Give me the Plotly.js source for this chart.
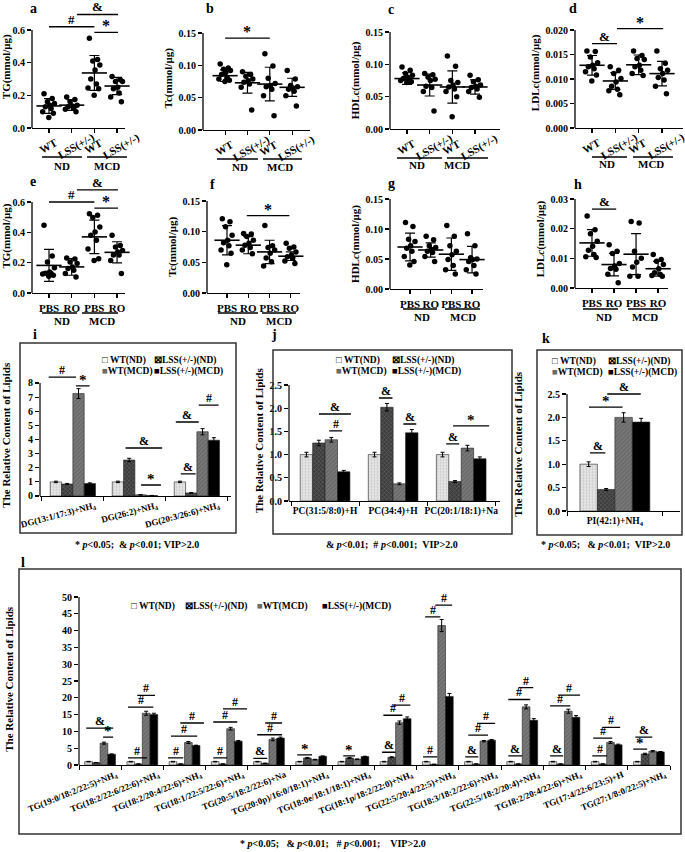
<!DOCTYPE html>
<html><head><meta charset="utf-8">
<script src="https://cdn.plot.ly/plotly-3.0.1.min.js"></script>
<style>html,body{margin:0;padding:0;background:#fff}#chart{width:685px;height:852px}</style>
</head><body><div id="chart"></div>
<script>
// ================= DATA =================
const genotypeTicks = ['WT', 'LSS(+/-)', 'WT', 'LSS(+/-)'];
const treatmentTicks = ['PBS', 'RO', 'PBS', 'RO'];
const dietGroups = ['ND', 'MCD'];

// a: TG, genotype
const tgGeno = [[0.21,0.18,0.16,0.15,0.14,0.13,0.12,0.10,0.09,0.065],[0.19,0.175,0.16,0.14,0.135,0.13,0.12,0.115,0.10],[0.55,0.42,0.41,0.385,0.355,0.30,0.27,0.245,0.24,0.20],[0.315,0.295,0.285,0.285,0.25,0.24,0.215,0.19,0.16]];
const tgGenoMean = [0.135,0.14,0.337,0.257];
const tgGenoSd = [0.045,0.032,0.107,0.053];
// b: Tc, genotype
const tcGeno = [[0.102,0.096,0.094,0.092,0.089,0.086,0.081,0.079,0.077,0.075],[0.090,0.086,0.083,0.079,0.076,0.074,0.071,0.066,0.031],[0.118,0.099,0.080,0.072,0.069,0.067,0.063,0.053,0.022],[0.092,0.079,0.069,0.067,0.065,0.063,0.060,0.053,0.037]];
const tcGenoMean = [0.084,0.073,0.071,0.066];
const tcGenoSd = [0.009,0.016,0.026,0.014];
// c: HDLc, genotype
const hdlGeno = [[0.096,0.091,0.086,0.083,0.080,0.078,0.076,0.075,0.073,0.072],[0.086,0.084,0.080,0.077,0.075,0.066,0.064,0.058,0.028],[0.113,0.097,0.075,0.072,0.068,0.065,0.062,0.058,0.050,0.019],[0.083,0.076,0.073,0.068,0.066,0.064,0.062,0.058,0.049]];
const hdlGenoMean = [0.078,0.068,0.065,0.065];
const hdlGenoSd = [0.009,0.017,0.025,0.011];
// d: LDLc, genotype
const ldlGeno = [[0.0157,0.0156,0.0145,0.0133,0.0128,0.0125,0.0121,0.0115,0.0108,0.0096],[0.0125,0.0118,0.0111,0.0101,0.0094,0.0085,0.0079,0.0076,0.0068],[0.0157,0.0148,0.0142,0.0140,0.0128,0.0125,0.0118,0.0111,0.0107],[0.0157,0.0132,0.0121,0.0118,0.0111,0.0103,0.0098,0.0085,0.0070]];
const ldlGenoMean = [0.0128,0.0096,0.0129,0.0111];
const ldlGenoSd = [0.0020,0.0017,0.0020,0.0025];
// e: TG, treatment
const tgTreat = [[0.446,0.244,0.204,0.167,0.139,0.130,0.128,0.125,0.117,0.110],[0.230,0.225,0.204,0.194,0.172,0.161,0.150,0.128,0.106],[0.523,0.512,0.497,0.435,0.402,0.380,0.347,0.290,0.226,0.215],[0.380,0.314,0.303,0.280,0.270,0.250,0.250,0.215,0.128]];
const tgTreatMean = [0.182,0.172,0.370,0.268];
const tgTreatSd = [0.105,0.055,0.110,0.070];
// f: Tc, treatment
const tcTreat = [[0.121,0.116,0.108,0.094,0.086,0.082,0.077,0.070,0.065,0.046],[0.097,0.096,0.092,0.086,0.081,0.078,0.074,0.070,0.064],[0.110,0.077,0.074,0.070,0.065,0.057,0.051,0.044],[0.081,0.075,0.073,0.067,0.062,0.059,0.057,0.052,0.048]];
const tcTreatMean = [0.086,0.078,0.067,0.060];
const tcTreatSd = [0.024,0.014,0.019,0.007];
// g: HDLc, treatment
const hdlTreat = [[0.111,0.104,0.083,0.079,0.072,0.068,0.063,0.054,0.046,0.040],[0.088,0.082,0.072,0.069,0.066,0.063,0.061,0.054,0.046],[0.106,0.088,0.072,0.063,0.057,0.049,0.039,0.032,0.025],[0.092,0.072,0.052,0.050,0.049,0.046,0.039,0.032,0.025]];
const hdlTreatMean = [0.070,0.065,0.058,0.049];
const hdlTreatSd = [0.023,0.012,0.027,0.022];
// h: LDLc, treatment
const ldlTreat = [[0.0243,0.0196,0.0183,0.0158,0.0141,0.0127,0.0113,0.0105,0.0103],[0.0146,0.0124,0.0116,0.0083,0.0074,0.0066,0.0063,0.0046,0.0018],[0.0224,0.0219,0.0124,0.0100,0.0087,0.0071,0.0040,0.0040],[0.0113,0.0096,0.0090,0.0079,0.0065,0.0051,0.0046,0.0042,0.0040]];
const ldlTreatMean = [0.0152,0.0079,0.0114,0.0065];
const ldlTreatSd = [0.0045,0.0038,0.0069,0.0025];

// significance marks: [x from, x to, level, symbol]
const sigA = [[0,2,0.62,'#'],[1.23,3.04,0.695,'&'],[2,3.04,0.585,'*']];
const sigB = [[0,2,0.142,'*']];
const sigD = [[0,1.07,0.0172,'&'],[1.07,3.05,0.0203,'*']];
const sigE = [[0,2,0.60,'#'],[1.23,3.04,0.68,'&'],[2,3.04,0.56,'*']];
const sigF = [[0.93,2.93,0.126,'*']];
const sigH = [[0,1.1,0.0266,'&']];

// bar series names
const seriesNames = ['WT(ND)', 'LSS(+/-)(ND)', 'WT(MCD)', 'LSS(+/-)(MCD)'];

// i: DG
const dgLipids = ['DG(13:1/17:3)+NH<sub>4</sub>', 'DG(26:2)+NH<sub>4</sub>', 'DG(20:3/26:6)+NH<sub>4</sub>'];
const dgWtNd = [1.0,1.0,1.0];      const dgWtNdErr = [0.05,0.05,0.05];
const dgLssNd = [0.85,2.55,0.22];  const dgLssNdErr = [0.04,0.12,0.02];
const dgWtMcd = [7.25,0.08,4.55];  const dgWtMcdErr = [0.35,0.01,0.22];
const dgLssMcd = [0.88,0.03,3.95]; const dgLssMcdErr = [0.05,0.01,0.18];
const sigI = [[-0.39,0.05,8.42,'#'],[0.05,0.27,7.79,'*'],[0.85,1.44,3.40,'&'],[1.10,1.42,0.78,'*'],[1.66,2.03,5.24,'&'],[2.03,2.35,6.44,'#'],[1.74,1.98,1.56,'&']];

// j: PC
const pcLipids = ['PC(31:5/8:0)+H', 'PC(34:4)+H', 'PC(20:1/18:1)+Na'];
const pcWtNd = [1.0,1.0,1.0];      const pcWtNdErr = [0.05,0.05,0.05];
const pcLssNd = [1.25,2.02,0.42];  const pcLssNdErr = [0.06,0.08,0.02];
const pcWtMcd = [1.32,0.37,1.14];  const pcWtMcdErr = [0.05,0.02,0.06];
const pcLssMcd = [0.63,1.47,0.91]; const pcLssMcdErr = [0.03,0.07,0.04];
const sigJ = [[-0.09,0.38,1.875,'&'],[0.06,0.25,1.51,'#'],[0.79,0.99,2.22,'&'],[1.15,1.34,1.66,'&'],[1.78,1.97,1.23,'&'],[1.88,2.41,1.62,'*']];

// k: PI
const piLipids = ['PI(42:1)+NH<sub>4</sub>'];
const piWtNd = [1.0];   const piWtNdErr = [0.05];
const piLssNd = [0.46]; const piLssNdErr = [0.02];
const piWtMcd = [2.0];  const piWtMcdErr = [0.10];
const piLssMcd = [1.9]; const piLssMcdErr = [0.08];
const sigK = [[-0.26,-0.10,1.24,'&'],[-0.27,0.08,2.22,'*'],[-0.08,0.27,2.5,'&']];

// l: TG species
const tgLipids = ['TG(19:0/18:2/22:5)+NH<sub>4</sub>','TG(18:2/22:6/22:6)+NH<sub>4</sub>','TG(18:2/20:4/22:6)+NH<sub>4</sub>','TG(18:1/22:5/22:6)+NH<sub>4</sub>','TG(20:5/18:2/22:6)+Na','TG(20:0p)/16:0/18:1)+NH<sub>4</sub>','TG(18:0e/18:1/18:1)+NH<sub>4</sub>','TG(18:1p/18:2/22:0)+NH<sub>4</sub>','TG(22:5/20:4/22:5)+NH<sub>4</sub>','TG(18:3/18:2/22:6)+NH<sub>4</sub>','TG(22:5/18:2/20:4)+NH<sub>4</sub>','TG18:2/20:4/22:6)+NH<sub>4</sub>','TG(17:4/22:6/23:5)+H','TG(27:1/8:0/22:5)+NH<sub>4</sub>'];
const tgWtNd = [1,1,1,1,1,1,1,1,1,1,1,1,1,1];
const tgWtNdErr = [0.08,0.08,0.08,0.08,0.08,0.08,0.08,0.08,0.08,0.08,0.08,0.08,0.08,0.08];
const tgLssNd = [0.7,0.3,0.3,0.3,0.5,2.1,2.1,2.3,0.2,0.3,0.3,0.3,0.3,3.3];
const tgLssNdErr = [0.05,0.03,0.03,0.03,0.05,0.15,0.15,0.15,0.02,0.03,0.03,0.03,0.03,0.2];
const tgWtMcd = [6.5,15.4,6.7,10.8,7.6,1.6,1.7,12.6,41.5,7.1,17.3,16.0,6.7,4.1];
const tgWtMcdErr = [0.3,0.6,0.3,0.4,0.4,0.1,0.1,0.5,1.8,0.2,0.6,0.6,0.3,0.2];
const tgLssMcd = [3.2,15.0,5.8,7.1,8.0,2.6,2.5,13.8,20.4,7.4,13.3,14.2,6.0,3.9];
const tgLssMcdErr = [0.1,0.4,0.1,0.2,0.3,0.1,0.1,0.5,0.9,0.2,0.5,0.5,0.2,0.1];
const sigL = [
 [-0.33,0.31,11,'&'],[0.07,0.31,8.3,'*'],
 [0.66,1.11,2.1,'#'],[0.66,1.26,17.2,'#'],[0.88,1.30,20.7,'#'],
 [1.61,1.97,2.1,'#'],[1.68,2.30,8.6,'#'],[1.90,2.46,12.5,'#'],
 [2.68,3.01,2.1,'#'],[2.68,3.25,12.8,'#'],[2.91,3.48,16.7,'#'],
 [3.63,3.96,2.0,'&'],[3.72,4.31,9.0,'#'],[3.91,4.31,12.5,'#'],
 [4.67,5.02,3.0,'*'],
 [5.76,6.04,2.7,'*'],
 [6.68,7.00,3.8,'&'],[6.71,7.16,14.8,'#'],[6.94,7.35,17.8,'#'],
 [7.65,7.99,2.4,'#'],[7.70,8.06,44.1,'#'],[7.94,8.34,47.6,'#'],
 [8.65,8.96,2.4,'&'],[8.72,9.19,8.9,'#'],[8.93,9.36,12.4,'#'],
 [9.67,10.00,2.7,'&'],[9.67,10.19,19.5,'#'],[9.91,10.26,23.0,'#'],
 [10.66,10.97,2.7,'&'],[10.66,11.14,17.6,'#'],[10.85,11.37,20.8,'#'],
 [11.66,12.01,2.7,'#'],[11.68,12.13,8.0,'#'],[11.90,12.32,11.2,'#'],
 [12.63,12.96,4.7,'*'],[12.68,13.08,8.3,'&']
];

// ================= LAYOUT HELPERS =================
const W = 685, H = 852;
const FONT = '"Liberation Serif", "Times New Roman", serif';
const fx = p => p / W;
const fy = p => 1 - p / H;
const axName = (l, n) => n === 1 ? l + 'axis' : l + 'axis' + n;
const symText = s => s === '&' ? '&amp;' : s;
const jitter = [-0.22, 0.14, -0.07, 0.24, 0.03, -0.16, 0.09, -0.28, 0.19, -0.01];

const traces = [];
const shapes = [];
const annotations = [];
const layout = {
  width: W, height: H, margin: {l: 0, r: 0, t: 0, b: 0},
  paper_bgcolor: '#fff', plot_bgcolor: 'rgba(0,0,0,0)', showlegend: false,
  font: {family: FONT, size: 10, color: '#000', weight: 'bold'},
  barmode: 'group', bargap: 0.27, bargroupgap: 0,
  shapes: shapes, annotations: annotations
};
const baseAxis = {showline: true, linecolor: '#000', linewidth: 1.3, showgrid: false, zeroline: false,
  ticks: 'outside', ticklen: 4, tickwidth: 1.2, tickcolor: '#000', fixedrange: true};

function label(text, x, y, size, extra) {
  annotations.push(Object.assign({xref: 'paper', yref: 'paper', x: fx(x), y: fy(y), text: text,
    showarrow: false, xanchor: 'center', yanchor: 'middle', font: {size: size}}, extra || {}));
}
function addSig(list, xa, ya, size) {
  list.forEach(([a, b, v, s]) => {
    shapes.push({type: 'line', xref: xa, yref: ya, x0: a, x1: b, y0: v, y1: v, line: {color: '#000', width: 1.3}});
    annotations.push({xref: xa, yref: ya, x: (a + b) / 2, y: v, text: symText(s), showarrow: false,
      xanchor: 'center', yanchor: 'bottom', yshift: s === '*' ? -4 : -2, font: {size: s === '*' ? size + 3 : size}});
  });
}
function setupAxes(n, p, lw) {
  const xa = 'x' + n, ya = 'y' + n;
  const [y0, y1] = p.yPx;
  const yTop = y0 - (y0 - y1) * p.extra / p.top;
  layout[axName('y', n)] = Object.assign({}, baseAxis, {
    showline: false, domain: [fy(y0), fy(yTop)], range: [0, p.extra], anchor: xa,
    tick0: 0, dtick: p.dtick, tickformat: p.fmt, tickfont: {size: 10},
    title: {text: p.yTitle, font: {size: 11}, standoff: p.standoff}
  });
  // y-axis line that stops at the top tick
  shapes.push({type: 'line', xref: xa + ' domain', yref: ya, x0: 0, x1: 0, y0: 0, y1: p.top,
    line: {color: '#000', width: lw}});
  return [xa, ya];
}

// ================= DOT PLOT PANELS (a-h) =================
const dotPanels = [
  {letter: 'a', lp: [33, 9], pts: tgGeno, mean: tgGenoMean, sd: tgGenoSd, cats: genotypeTicks, rot: true, yTitle: 'TG(mmol/μg)',
   xPx: [32, 125], xRange: [-0.75, 3.35], yPx: [128, 30], top: 0.6, extra: 0.75, dtick: 0.2, fmt: '.1f', standoff: 3, sig: sigA,
   under: [[42, 82], [87, 127]], underY: 157, dietX: [62, 107], dietY: 166},
  {letter: 'b', lp: [210, 9], pts: tcGeno, mean: tcGenoMean, sd: tcGenoSd, cats: genotypeTicks, rot: true, yTitle: 'Tc(mmol/μg)',
   xPx: [203, 310], xRange: [-0.99, 3.8], yPx: [130, 33], top: 0.15, extra: 0.16, dtick: 0.05, fmt: '.2f', standoff: 3, sig: sigB,
   under: [[217, 258], [263, 302]], underY: 159, dietX: [240, 280], dietY: 167},
  {letter: 'c', lp: [391, 10], pts: hdlGeno, mean: hdlGenoMean, sd: hdlGenoSd, cats: genotypeTicks, rot: true, yTitle: 'HDLc(mmol/μg)',
   xPx: [390, 500], xRange: [-0.75, 4.1], yPx: [129, 32], top: 0.15, extra: 0.15, dtick: 0.05, fmt: '.2f', standoff: 3, sig: [],
   under: [[397, 442], [447, 488]], underY: 158, dietX: [417, 457], dietY: 165},
  {letter: 'd', lp: [573, 9], pts: ldlGeno, mean: ldlGenoMean, sd: ldlGenoSd, cats: genotypeTicks, rot: true, yTitle: 'LDLc(mmol/μg)',
   xPx: [575, 683], xRange: [-0.73, 3.9], yPx: [128, 30], top: 0.02, extra: 0.0225, dtick: 0.005, fmt: '.3f', standoff: 3, sig: sigD,
   under: [[592, 627], [633, 673]], underY: 157, dietX: [607, 651], dietY: 164},
  {letter: 'e', lp: [33, 182], pts: tgTreat, mean: tgTreatMean, sd: tgTreatSd, cats: treatmentTicks, rot: false, yTitle: 'TG(mmol/μg)',
   xPx: [32, 125], xRange: [-0.75, 3.35], yPx: [293, 202], top: 0.6, extra: 0.75, dtick: 0.2, fmt: '.1f', standoff: 3, sig: sigE,
   under: [[42, 77], [82, 118]], underY: 313, dietX: [62, 102], dietY: 321},
  {letter: 'f', lp: [212, 184], pts: tcTreat, mean: tcTreatMean, sd: tcTreatSd, cats: treatmentTicks, rot: false, yTitle: 'Tc(mmol/μg)',
   xPx: [207, 300], xRange: [-0.94, 3.43], yPx: [293, 201], top: 0.15, extra: 0.15, dtick: 0.05, fmt: '.2f', standoff: 3, sig: sigF,
   under: [[218, 258], [262, 296]], underY: 313, dietX: [238, 279], dietY: 321},
  {letter: 'g', lp: [392, 183], pts: hdlTreat, mean: hdlTreatMean, sd: hdlTreatSd, cats: treatmentTicks, rot: false, yTitle: 'HDL<i>c</i>(mmol/μg)',
   xPx: [390, 483], xRange: [-0.97, 3.53], yPx: [289, 199], top: 0.15, extra: 0.15, dtick: 0.05, fmt: '.2f', standoff: 3, sig: [],
   under: [[403, 437], [445, 480]], underY: 309, dietX: [422, 463], dietY: 317},
  {letter: 'h', lp: [578, 185], pts: ldlTreat, mean: ldlTreatMean, sd: ldlTreatSd, cats: treatmentTicks, rot: false, yTitle: 'LDL<i>c</i>(mmol/μg)',
   xPx: [575, 668], xRange: [-0.77, 3.45], yPx: [288, 199], top: 0.03, extra: 0.033, dtick: 0.01, fmt: '.2f', standoff: 3, sig: sigH,
   under: [[583, 618], [628, 662]], underY: 309, dietX: [604, 645], dietY: 317}
];

dotPanels.forEach((p, k) => {
  const n = k + 1;
  const [xa, ya] = setupAxes(n, p, 1.3);
  layout[axName('x', n)] = Object.assign({}, baseAxis, {
    domain: [fx(p.xPx[0]), fx(p.xPx[1])], range: p.xRange, anchor: ya,
    tickvals: p.cats.map((c, i) => i), ticktext: p.cats, showticklabels: !p.rot, tickfont: {size: 11}
  });
  const xs = [], ys = [];
  p.pts.forEach((g, i) => g.forEach((v, j) => { xs.push(i + jitter[j % jitter.length]); ys.push(v); }));
  traces.push({type: 'scatter', mode: 'markers', x: xs, y: ys, xaxis: xa, yaxis: ya, cliponaxis: false,
    marker: {color: '#000', size: 5.5}, hoverinfo: 'skip'});
  traces.push({type: 'scatter', mode: 'markers', x: p.mean.map((v, i) => i), y: p.mean, xaxis: xa, yaxis: ya, cliponaxis: false,
    marker: {symbol: 'line-ew', size: 18, color: '#000', line: {color: '#000', width: 1.6}},
    error_y: {type: 'data', array: p.sd, visible: true, color: '#000', thickness: 1.2, width: 5}, hoverinfo: 'skip'});
  if (p.rot) {
    p.cats.forEach((c, i) => annotations.push({xref: xa, yref: 'paper', x: i, y: fy(p.yPx[0] + 18), text: c,
      textangle: -30, showarrow: false, xanchor: 'center', yanchor: 'middle', xshift: c.length > 3 ? 4 : -1, font: {size: 11}}));
  }
  p.under.forEach(([a, b], i) => {
    shapes.push({type: 'line', xref: 'paper', yref: 'paper', x0: fx(a), x1: fx(b), y0: fy(p.underY), y1: fy(p.underY),
      line: {color: '#000', width: 1.3}});
    label(dietGroups[i], p.dietX[i], p.dietY, 11);
  });
  addSig(p.sig, xa, ya, 13);
  label(p.letter, p.lp[0], p.lp[1], 14);
});

// ================= BAR PANELS (i-l) =================
const barStyles = [
  {color: '#e6e6e6', pattern: {shape: '.', fillmode: 'overlay', fgcolor: '#a8a8a8', size: 3, solidity: 0.35}},
  {color: '#3c3c3c', pattern: {shape: 'x', fillmode: 'overlay', fgcolor: '#9a9a9a', size: 3, solidity: 0.3}},
  {color: '#6a6a6a', pattern: {shape: '/', fillmode: 'overlay', fgcolor: '#9a9a9a', size: 3, solidity: 0.3}},
  {color: '#000000'}
];
const legendTexts = ['□ WT(ND)', '⊠LSS(+/-)(ND)', '<span style="color:#6a6a6a">■</span>WT(MCD)', '■LSS(+/-)(MCD)'];

const barPanels = [
  {letter: 'i', lp: [35, 335], cats: dgLipids, series: [dgWtNd, dgLssNd, dgWtMcd, dgLssMcd], errs: [dgWtNdErr, dgLssNdErr, dgWtMcdErr, dgLssMcdErr],
   xPx: [40, 231], xRange: [-0.53, 2.55], yPx: [496, 383], top: 8, extra: 8.6, dtick: 1, fmt: 'd', angle: -15, shift: 22, xfont: 9,
   yTitle: 'The Relative Content of Lipids', standoff: 20, sig: sigI, box: [20, 343, 236, 533],
   legX: [100, 152], legY: [360, 371], capX: 137, capY: 544,
   caption: '* <i>p</i>&lt;0.05;&nbsp; &amp; <i>p</i>&lt;0.01; VIP&gt;2.0'},
  {letter: 'j', lp: [274, 335], cats: pcLipids, series: [pcWtNd, pcLssNd, pcWtMcd, pcLssMcd], errs: [pcWtNdErr, pcLssNdErr, pcWtMcdErr, pcLssMcdErr],
   xPx: [289, 500], xRange: [-0.53, 2.57], yPx: [501, 385], top: 2.5, extra: 2.6, dtick: 0.5, fmt: '.1f', angle: 0, shift: 0, xfont: 9.5,
   yTitle: 'The Relative Content of Lipids', standoff: 3, sig: sigJ, box: [273, 350, 512, 534],
   legX: [334, 390], legY: [360, 371], capX: 392, capY: 544,
   caption: '&amp; <i>p</i>&lt;0.01;&nbsp; # <i>p</i>&lt;0.001;&nbsp; VIP&gt;2.0'},
  {letter: 'k', lp: [546, 338], cats: piLipids, series: [piWtNd, piLssNd, piWtMcd, piLssMcd], errs: [piWtNdErr, piLssNdErr, piWtMcdErr, piLssMcdErr],
   xPx: [567, 680], xRange: [-0.5, 0.68], yPx: [511, 394], top: 2.5, extra: 2.85, dtick: 0.5, fmt: '.1f', angle: 0, shift: 0, xfont: 9.5,
   yTitle: 'The Relative Content of Lipids', standoff: 22, sig: sigK, box: [537, 350, 682, 535],
   legX: [550, 606], legY: [361, 372], capX: 605, capY: 544,
   caption: '* <i>p</i>&lt;0.05;&nbsp;&nbsp; &amp; <i>p</i>&lt;0.01;&nbsp; VIP&gt;2.0'},
  {letter: 'l', lp: [23, 562], cats: tgLipids, series: [tgWtNd, tgLssNd, tgWtMcd, tgLssMcd], errs: [tgWtNdErr, tgLssNdErr, tgWtMcdErr, tgLssMcdErr],
   xPx: [79, 670], xRange: [-0.5, 13.5], yPx: [765, 597], top: 50, extra: 51, dtick: 5, fmt: 'd', angle: -22, shift: 16, xfont: 9,
   yTitle: 'The Relative Content of Lipids', standoff: 46, sig: sigL, box: [19, 569, 681, 834],
   legX: [129, 183, 255, 320], legY: [606], capX: 333, capY: 843,
   caption: '* <i>p</i>&lt;0.05;&nbsp;&nbsp; &amp; <i>p</i>&lt;0.01;&nbsp;&nbsp; # <i>p</i>&lt;0.001;&nbsp;&nbsp;&nbsp; VIP&gt;2.0'}
];

barPanels.forEach((p, k) => {
  const n = 9 + k;
  const [xa, ya] = setupAxes(n, p, 1.2);
  layout[axName('x', n)] = Object.assign({}, baseAxis, {
    domain: [fx(p.xPx[0]), fx(p.xPx[1])], range: p.xRange, anchor: ya, linewidth: 1.2,
    tickvals: p.cats.map((c, i) => i), ticktext: p.cats, ticks: '', tickangle: p.angle, ticklabelshift: p.shift,
    tickfont: {size: p.xfont},
    minor: {tick0: -0.5, dtick: 1, ticks: 'outside', ticklen: 4, tickcolor: '#000', tickwidth: 1}
  });
  p.series.forEach((vals, s) => {
    traces.push({type: 'bar', name: seriesNames[s], x: p.cats.map((c, i) => i), y: vals, xaxis: xa, yaxis: ya,
      marker: Object.assign({line: {color: '#222', width: 0.6}}, barStyles[s]),
      error_y: {type: 'data', array: p.errs[s], visible: true, color: '#000', thickness: 1, width: 2}, hoverinfo: 'skip'});
  });
  addSig(p.sig, xa, ya, 12);
  const b = p.box;
  shapes.push({type: 'rect', xref: 'paper', yref: 'paper', x0: fx(b[0]), x1: fx(b[2]), y0: fy(b[3]), y1: fy(b[1]),
    line: {color: '#333', width: 1.5}, fillcolor: 'rgba(0,0,0,0)'});
  legendTexts.forEach((t, i) => {
    const lx = p.legY.length === 1 ? p.legX[i] : p.legX[i % 2];
    const ly = p.legY.length === 1 ? p.legY[0] : p.legY[Math.floor(i / 2)];
    label(t, lx, ly, 9.5, {xanchor: 'left'});
  });
  label(p.caption, p.capX, p.capY, 10);
  label(p.letter, p.lp[0], p.lp[1], 14);
});

Plotly.newPlot('chart', traces, layout, {staticPlot: true});
</script></body></html>
